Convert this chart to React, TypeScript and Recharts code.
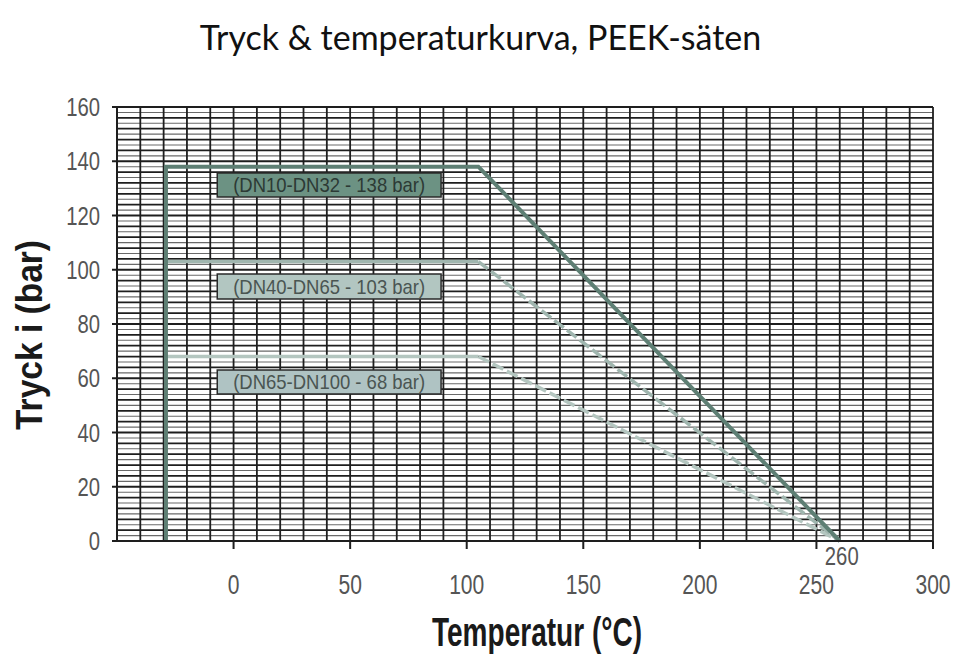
import { LineChart, Line, XAxis, YAxis, CartesianGrid, ReferenceArea, ReferenceDot, Label } from "recharts";

// Pressure / temperature rating curves (temperature °C, pressure bar)
const curve138 = [
  { t: -29, p: 0 },
  { t: -29, p: 138 },
  { t: 105, p: 138 },
  { t: 260, p: 0 },
];
const flat103 = [
  { t: -29, p: 103 },
  { t: 105, p: 103 },
];
const slope103 = [
  { t: 105, p: 103 },
  { t: 260, p: 0 },
];
const flat68 = [
  { t: -29, p: 68 },
  { t: 105, p: 68 },
];
const slope68 = [
  { t: 105, p: 68 },
  { t: 260, p: 0 },
];

const xDomain = [-50, 300];
const yDomain = [0, 160];
const xTicks = [0, 50, 100, 150, 200, 250, 300];
const yTicks = [0, 20, 40, 60, 80, 100, 120, 140, 160];
const vGrid = [-40, -30, -20, -10, 0, 10, 20, 30, 40, 50, 60, 70, 80, 90, 100, 110, 120, 130, 140, 150, 160, 170, 180, 190, 200, 210, 220, 230, 240, 250, 260, 270, 280, 290, 300];
// every 2 bar; values not divisible by 4 are the lighter minor lines
const hGrid = [2, 4, 6, 8, 10, 12, 14, 16, 18, 20, 22, 24, 26, 28, 30, 32, 34, 36, 38, 40, 42, 44, 46, 48, 50, 52, 54, 56, 58, 60, 62, 64, 66, 68, 70, 72, 74, 76, 78, 80, 82, 84, 86, 88, 90, 92, 94, 96, 98, 100, 102, 104, 106, 108, 110, 112, 114, 116, 118, 120, 122, 124, 126, 128, 130, 132, 134, 136, 138, 140, 142, 144, 146, 148, 150, 152, 154, 156, 158, 160];

// label boxes
const boxes = [
  { text: "(DN10-DN32 - 138 bar)", x1: -7, x2: 89, y1: 126.8, y2: 135.7, fill: "#6c9283", color: "#2c3a35" },
  { text: "(DN40-DN65 - 103 bar)", x1: -7, x2: 89, y1: 89.2, y2: 98.4, fill: "#b2c6c1", color: "#4a5552" },
  { text: "(DN65-DN100 - 68 bar)", x1: -7, x2: 89, y1: 54.2, y2: 63, fill: "#afc3c3", color: "#4a5552" },
];

const sans = "'Liberation Sans', Arial, sans-serif";

function XTick({ x, y, payload }: any) {
  return (
    <g transform={`translate(${x},${y + 43})`}>
      <text transform="scale(0.78,1)" textAnchor="middle" fontFamily={sans} fontSize={27} fill="#555">
        {payload.value}
      </text>
    </g>
  );
}

function YTick({ x, y, payload }: any) {
  return (
    <g transform={`translate(${x - 10},${y + 9})`}>
      <text transform="scale(0.78,1)" textAnchor="end" fontFamily={sans} fontSize={26} fill="#555">
        {payload.value}
      </text>
    </g>
  );
}

function HLine(props: any) {
  const v = hGrid[props.index];
  const major = v % 4 === 0;
  return (
    <line
      x1={props.x1}
      y1={props.y1}
      x2={props.x2}
      y2={props.y2}
      stroke={major ? "#1e1e1e" : "#6a6a6a"}
      strokeWidth={major ? 1.8 : 1.1}
    />
  );
}

function mapX({ xAxis, offset }: any) {
  if (xAxis && typeof xAxis.scale === "function") return vGrid.map((v) => xAxis.scale(v));
  return vGrid.map((v) => offset.left + ((v - xDomain[0]) / (xDomain[1] - xDomain[0])) * offset.width);
}

function mapY({ yAxis, offset }: any) {
  if (yAxis && typeof yAxis.scale === "function") return hGrid.map((v) => yAxis.scale(v));
  return hGrid.map((v) => offset.top + offset.height - ((v - yDomain[0]) / (yDomain[1] - yDomain[0])) * offset.height);
}

export default function App() {
  return (
    <div style={{ position: "relative", width: 961, height: 660, background: "#fff" }}>
      <style>{`body{margin:0}`}</style>
      <div
        style={{
          position: "absolute",
          top: 16,
          left: 0,
          width: 961,
          textAlign: "center",
          fontFamily: "Lato, 'Open Sans', sans-serif",
          fontSize: 34,
          color: "#111",
        }}
      >
        Tryck &amp; temperaturkurva, PEEK-säten
      </div>
      <div style={{ position: "absolute", top: 0, left: 0 }}>
        <LineChart width={961} height={660} margin={{ top: 107, right: 28, bottom: 79, left: 57 }}>
          <CartesianGrid
            verticalCoordinatesGenerator={mapX}
            horizontalCoordinatesGenerator={mapY}
            horizontal={(p: any) => <HLine key={p.key} {...p} />}
            stroke="#1e1e1e"
            strokeWidth={1.8}
          />
          <XAxis
            type="number"
            dataKey="t"
            domain={xDomain}
            ticks={xTicks}
            allowDataOverflow
            axisLine={{ stroke: "#1e1e1e", strokeWidth: 2 }}
            tickLine={{ stroke: "#1e1e1e", strokeWidth: 2 }}
            tickSize={8}
            height={40}
            tick={<XTick />}
          >
            <Label
              content={({ viewBox }: any) => (
                <text
                  x={viewBox.x + viewBox.width / 2 + 12}
                  y={646}
                  textAnchor="middle"
                  fontFamily={sans}
                  fontWeight="bold"
                  fontSize={40}
                  textLength={210}
                  lengthAdjust="spacingAndGlyphs"
                  fill="#1a1a1a"
                >
                  Temperatur (°C)
                </text>
              )}
            />
          </XAxis>
          <YAxis
            type="number"
            domain={yDomain}
            ticks={yTicks}
            width={60}
            axisLine={{ stroke: "#1e1e1e", strokeWidth: 2 }}
            tickLine={{ stroke: "#1e1e1e", strokeWidth: 2 }}
            tickSize={5}
            tick={<YTick />}
          >
            <Label
              content={({ viewBox }: any) => (
                <text
                  x={0}
                  y={0}
                  transform={`translate(42, ${viewBox.y + viewBox.height / 2 + 11}) rotate(-90)`}
                  textAnchor="middle"
                  fontFamily={sans}
                  fontWeight="bold"
                  fontSize={37}
                  textLength={190}
                  lengthAdjust="spacingAndGlyphs"
                  fill="#1a1a1a"
                >
                  Tryck i (bar)
                </text>
              )}
            />
          </YAxis>
          {boxes.map((b) => (
            <ReferenceArea
              key={b.text}
              x1={b.x1}
              x2={b.x2}
              y1={b.y1}
              y2={b.y2}
              fill={b.fill}
              fillOpacity={1}
              stroke="#2a2a2a"
              strokeWidth={1.5}
              ifOverflow="visible"
              label={(props: any) => {
                const vb = props.viewBox;
                return (
                  <text
                    x={vb.x + vb.width / 2}
                    y={vb.y + vb.height / 2 + 7}
                    textAnchor="middle"
                    fontFamily={sans}
                    fontSize={21}
                    textLength={192}
                    lengthAdjust="spacingAndGlyphs"
                    fill={b.color}
                  >
                    {b.text}
                  </text>
                );
              }}
            />
          ))}
          <Line data={flat68} dataKey="p" stroke="#b4c6c0" strokeWidth={3.5} dot={false} isAnimationActive={false} />
          <Line data={slope68} dataKey="p" stroke="#b4c6c0" strokeWidth={3.5} strokeDasharray="12 4" dot={false} isAnimationActive={false} />
          <Line data={flat103} dataKey="p" stroke="#a0b6af" strokeWidth={3.5} dot={false} isAnimationActive={false} />
          <Line data={slope103} dataKey="p" stroke="#a0b6af" strokeWidth={3.5} strokeDasharray="12 4" dot={false} isAnimationActive={false} />
          <Line data={curve138} dataKey="p" stroke="#5e7f74" strokeWidth={4} dot={false} isAnimationActive={false} />
          <ReferenceDot
            x={260}
            y={0}
            r={0}
            fill="none"
            stroke="none"
            ifOverflow="visible"
            label={(props: any) => {
              const vb = props.viewBox;
              return (
                <g transform={`translate(${vb.x + 2},${vb.y + 24})`}>
                  <text transform="scale(0.78,1)" textAnchor="middle" fontFamily={sans} fontSize={26} fill="#555">
                    260
                  </text>
                </g>
              );
            }}
          />
        </LineChart>
      </div>
    </div>
  );
}
